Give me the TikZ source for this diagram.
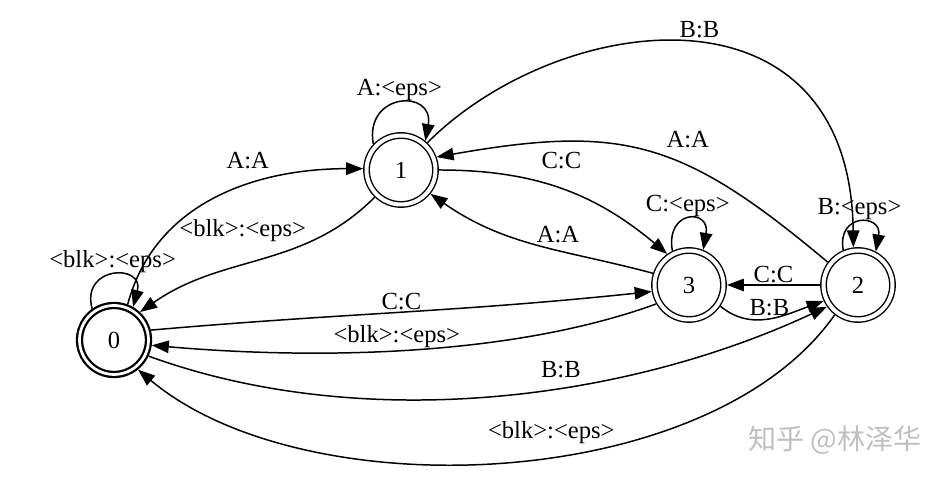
\documentclass[tikz,border=0pt]{standalone}
\usepackage{fontspec}
\setmainfont{Liberation Serif}
\newfontfamily\cjkfont{Noto Sans CJK SC}
\usetikzlibrary{arrows.meta}

\begin{document}
\begin{tikzpicture}[
        x=0.02cm, y=0.02cm,
        font=\fontsize{14}{16}\selectfont,
        state/.style={draw, circle, double, double distance=0.8mm, line width=0.8pt, minimum size=13.8mm, inner sep=0pt, outer sep=0.68mm},
        final/.style={state, line width=1.3pt, double distance=0.55mm, outer sep=0.74mm},
        arc/.style={-{Triangle[length=3.4mm, width=2.5mm]}, line width=0.85pt},
        lbl/.style={inner sep=1pt}
    ]
    \useasboundingbox (0,0) rectangle (947,482);

    % states of the transducer
    \node[final] (q0) at (114,142) {0};
    \node[state] (q1) at (401,312) {1};
    \node[state] (q3) at (689,197) {3};
    \node[state] (q2) at (858,197) {2};

    % self loops
    \draw[arc] (q0.125) to[out=105, in=75, looseness=2.8] node[lbl, above] {<blk>:<eps>} (q0.60);
    \draw[arc] (q1.137) to[out=100, in=80, looseness=2.6] node[lbl, above] {A:<eps>} (q1.50);
    \draw[arc] (q3.116) to[out=100, in=80, looseness=3.5] node[lbl, above] {C:<eps>} (q3.68);
    \draw[arc] (q2.113) to[out=100, in=80, looseness=3] node[lbl, above] {B:<eps>} (q2.62);

    % transitions between states
    \draw[arc] (q0.69) to[out=75, in=180] node[lbl, pos=.62, above=8pt] {A:A} (q1.178);
    \draw[arc] (q1.226) to[out=225, in=35] node[lbl, pos=.58, above=12pt] {<blk>:<eps>} (q0.47);
    \draw[arc] (q1.0) to[out=0, in=140] node[lbl, pos=.5, above=10pt] {C:C} (q3.125);
    \draw[arc] (q3.162) to[out=165, in=-35] node[lbl, pos=.4, above=3pt] {A:A} (q1.-39);
    \draw[arc] (q2) -- node[lbl, above] {C:C} (q3);
    \draw[arc] (q3.-34) to[out=-40, in=200] node[lbl, above] {B:B} (q2.205);
    \draw[arc] (q1.46) .. controls (560,472) and (850,508) .. node[lbl, pos=.52, above=2pt] {B:B} (q2.97);
    \draw[arc] (q2.143) to[out=140, in=10, looseness=1.2] node[lbl, pos=.38, above=9pt] {A:A} (q1.20);
    \draw[arc] (q0.15) to[out=5, in=186] node[lbl, pos=.5, above] {C:C} (q3.190);
    \draw[arc] (q3.210) to[out=200, in=-5, looseness=.8] node[lbl, pos=.52, above] {<blk>:<eps>} (q0.-8);
    \draw[arc] (q0.-25) to[out=-20, in=205, looseness=.85] node[lbl, pos=.6, above=4pt] {B:B} (q2.215);
    \draw[arc] (q2.232) to[out=235, in=-40, looseness=.8] node[lbl, pos=.44, above=6pt] {<blk>:<eps>} (q0.-51);

    % watermark
    \node[text=gray!50, font=\cjkfont\fontsize{16}{19}\selectfont] (mark) at (835,42) {知乎 @林泽华};
\end{tikzpicture}
\end{document}
